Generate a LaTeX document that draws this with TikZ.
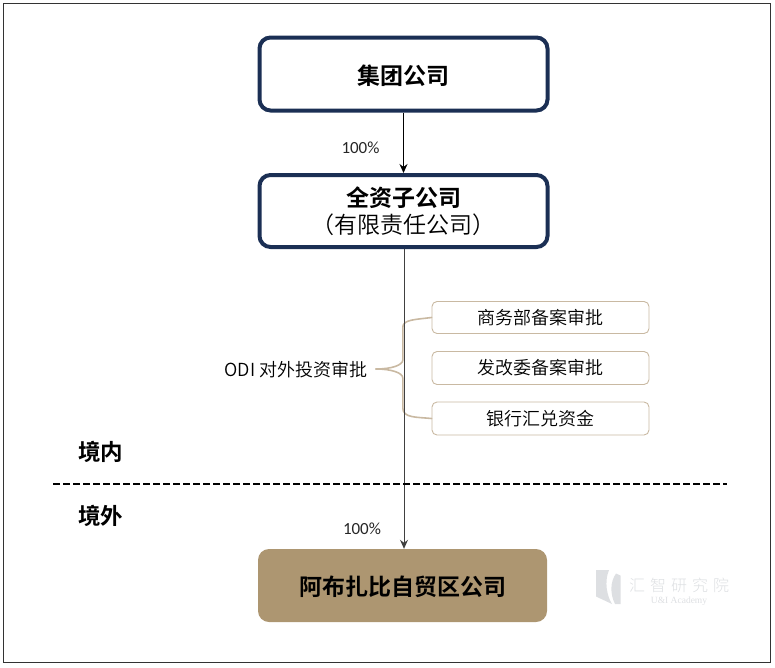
\documentclass[tikz,border=0pt]{standalone}
\usepackage{fontspec}
\usetikzlibrary{arrows.meta}
\setmainfont{Noto Sans CJK SC}
\newfontfamily\cjkb{Noto Sans CJK SC Bold}
\newfontfamily\cjkl{Noto Sans CJK SC DemiLight}
\newfontfamily\cjkt{Noto Sans CJK SC Light}
\newfontfamily\pct{Carlito}
\newfontfamily\serifl{Liberation Serif}
\definecolor{navy}{HTML}{1B2F54}
\definecolor{gold}{HTML}{AD9671}
\definecolor{tan}{HTML}{C9B9A2}
\definecolor{wm}{HTML}{DDDFE2}
\tikzset{
  x=1pt,y=-1pt,
  bigbox/.style={draw=navy,line width=4pt,rounded corners=11pt,fill=white,minimum width=288pt,align=center,inner sep=0pt,text=black},
  smallbox/.style={draw=tan,line width=0.9pt,rounded corners=5pt,fill=white,minimum width=217pt,inner sep=0pt,font=\fontsize{18}{20}\cjkl,text=black},
  pctlabel/.style={font=\fontsize{17}{20}\pct,text=black!85,inner sep=0pt},
  region/.style={font=\fontsize{22.5}{26}\cjkb,inner sep=0pt},
  conn/.style={draw=black,line width=0.9pt,-{Stealth[length=9pt,width=8pt]}},
  bracket/.style={draw=tan,line width=1.6pt,line cap=round}
}
\begin{document}
\begin{tikzpicture}
\useasboundingbox (0,0) rectangle (775,667);
\node[draw=black!80,line width=1pt,minimum width=767pt,minimum height=659pt,inner sep=0pt] (frame) at (387,332.5) {};
\node[bigbox,minimum height=73pt] (group) at (403.5,74) {\raisebox{0pt}[20pt][0pt]{\fontsize{23}{26}\cjkb 集团公司}};
\node[bigbox,minimum height=72pt] (sub) at (403.5,211) {\fontsize{23}{28}\cjkb 全资子公司\\[4pt]\fontsize{23}{28}\cjkl （有限责任公司）};
\node[draw=none,fill=gold,rounded corners=11pt,minimum width=289pt,minimum height=73pt,inner sep=0pt] (abu) at (402.5,585.5) {\raisebox{0pt}[20pt][0pt]{\fontsize{23}{26}\cjkb 阿布扎比自贸区公司}};
\node[pctlabel] (p1) at (360.5,148) {100\%};
\node[pctlabel] (p2) at (362,529) {100\%};
\node[smallbox,minimum height=32pt] (b1) at (540.5,317.5) {商务部备案审批};
\node[smallbox,minimum height=33pt] (b2) at (540.5,368) {发改委备案审批};
\node[smallbox,minimum height=33pt] (b3) at (540.5,418.5) {银行汇兑资金};
\node[anchor=east,inner sep=0pt,font=\fontsize{18}{20}\cjkl] (odi) at (367.5,369.5) {ODI 对外投资审批};
\draw[bracket] (b1.west) .. controls (416,319.5) and (403,319.5) .. (402.8,327) -- (402.8,360)
  .. controls (402.8,365) and (392,369) .. (376,369);
\draw[bracket] (b3.west) .. controls (416,417) and (403,418) .. (402.8,408) -- (402.8,378)
  .. controls (402.8,373) and (392,369) .. (376,369);
\draw[conn] (group) -- (sub);
\draw[conn,draw=black!75] (sub.south -| 404,0) -- (abu.north -| 404,0);
\coordinate (dl) at (53,484);
\coordinate (dr) at (727,484);
\draw[line width=1.3pt,dash pattern=on 6.5pt off 3.5pt] (dl) -- (dr);
\node[region] (in) at (100.5,451.5) {境内};
\node[region] (out) at (100.5,515.5) {境外};
\fill[wm] (596,570) -- (609,570) .. controls (604,582) and (607,596) .. (612,604) -- (596,596.5) -- cycle;
\fill[wm] (620.5,604) -- (615,604) .. controls (610,594) and (610,582) .. (616,573.5) -- (620.5,575.5) -- cycle;
\node[text=wm,inner sep=0pt,font=\fontsize{16}{18}\cjkt] (wm1) at (679,585) {汇\hspace{5pt}智\hspace{5pt}研\hspace{5pt}究\hspace{5pt}院};
\node[text=wm,inner sep=0pt,font=\fontsize{9.5}{10}\serifl] (wm2) at (679,601.5) {U\&I Academy};
\end{tikzpicture}
\end{document}
